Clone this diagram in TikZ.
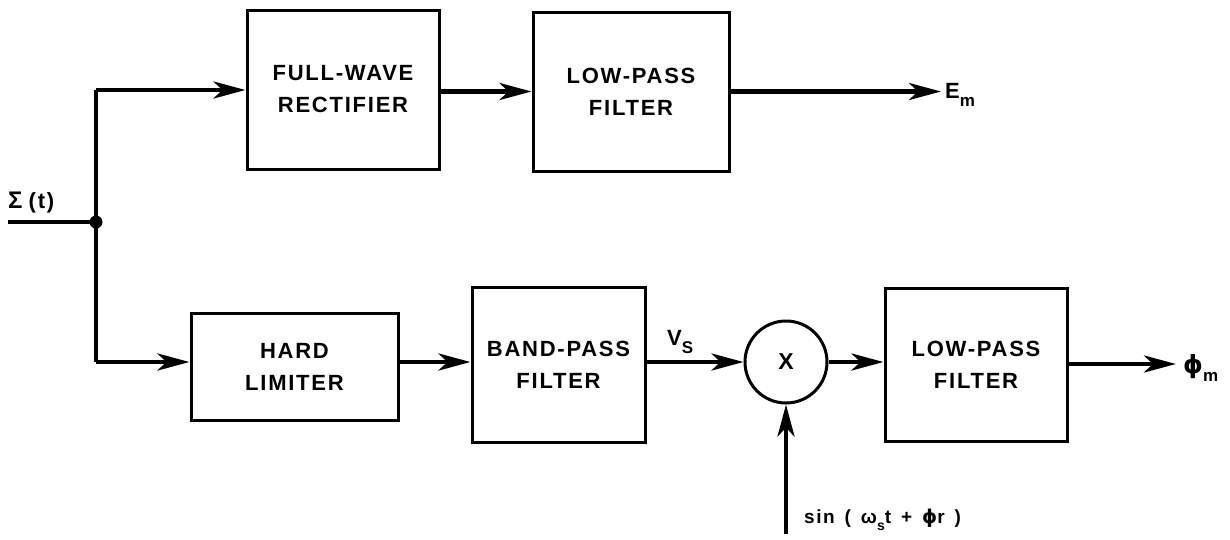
\documentclass[tikz,border=0pt]{standalone}
\usepackage{fontspec}
\setmainfont{Liberation Sans}
\newfontfamily\lab{Liberation Sans}[LetterSpace=8]
\newfontfamily\dv{DejaVu Sans}
\usetikzlibrary{arrows.meta,calc}
\begin{document}
\begin{tikzpicture}[x=1pt,y=-1pt,
  blk/.style={draw, line width=3pt, inner sep=0pt, align=center,
    font=\lab\bfseries\fontsize{22}{32}\selectfont},
  wire/.style={line width=4.5pt},
  sig/.style={line width=4.5pt, -{Stealth[length=32pt,width=17pt,inset=9pt]}},
  lbl/.style={inner sep=0pt, font=\lab\bfseries\fontsize{22}{24}\selectfont}
]
\useasboundingbox (0,0) rectangle (1230,539);

% blocks
\node[blk, minimum width=192pt, minimum height=159pt] (fw)  at (343,89.5) {FULL-WAVE\\RECTIFIER};
\node[blk, minimum width=196pt, minimum height=159pt] (lp1) at (631,91.5) {LOW-PASS\\FILTER};
\node[blk, minimum width=207pt, minimum height=107pt] (hl)  at (294.5,366.5) {HARD\\LIMITER};
\node[blk, minimum width=173pt, minimum height=155pt] (bpf) at (558.5,364.5) {BAND-PASS\\FILTER};
\node[blk, minimum width=182pt, minimum height=153pt] (lp2) at (976,365) {LOW-PASS\\FILTER};
\node[draw, circle, line width=3pt, minimum size=82pt, inner sep=0pt,
      font=\lab\bfseries\fontsize{23}{24}\selectfont] (mx) at (786,362) {X};

% coordinates
\coordinate (in) at (8,222);
\coordinate (jn) at (96,222);
\coordinate (tp) at (96,90);
\coordinate (bt) at (96,362);
\coordinate (emend) at (941,91.5);
\coordinate (phend) at (1176,364);
\coordinate (sn) at (786,534);

% connectors
\draw[wire] (in) -- (jn);
\draw[wire] (tp) -- (bt);
\fill (jn) circle (6.5pt);
\draw[sig] (tp) -- (tp -| fw.west);
\draw[sig] (fw.east |- lp1.west) -- (lp1.west);
\draw[sig] (lp1.east) -- (emend);
\draw[sig] (bt) -- (bt -| hl.west);
\draw[sig] (hl.east |- bt) -- (bt -| bpf.west);
\draw[sig] (mx.west -| bpf.east) -- (mx.west);
\draw[sig] (mx.east) -- (mx.east -| lp2.west);
\draw[sig] (phend -| lp2.east) -- (phend);
\draw[sig] (sn) -- (mx.south);

% labels
\node[lbl, anchor=west] (sigma) at (8,203) {{\fontsize{24}{24}\selectfont Σ}\;(t)};
\node[lbl, anchor=west] (em) at (945,95) {E\raisebox{-8pt}{\fontsize{17}{17}\selectfont m}};
\node[lbl, anchor=west] (vs) at (667,342) {V\raisebox{-8pt}{\fontsize{17}{17}\selectfont S}};
\node[lbl, anchor=west] (phm) at (1183,368) {{\dv\bfseries\fontsize{25}{25}\selectfont ϕ}\raisebox{-8pt}{\fontsize{17}{17}\selectfont m}};
\node[lbl, anchor=west, font=\lab\bfseries\fontsize{19}{22}\selectfont] (sin) at (804,520)
  {sin\, (\, ω\raisebox{-7pt}{\fontsize{14}{14}\selectfont s}t\, +\, {\dv\bfseries ϕ}r\, )};
\end{tikzpicture}
\end{document}
